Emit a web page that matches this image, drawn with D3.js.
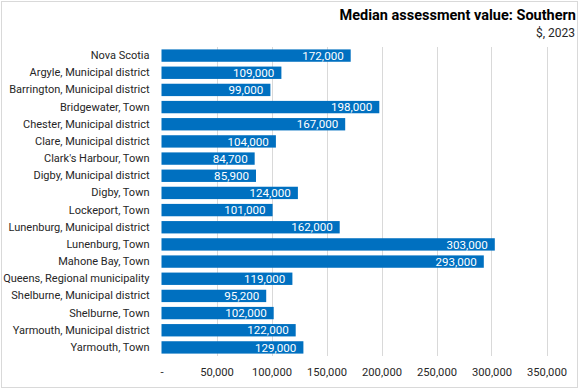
<!DOCTYPE html>
<html>
<head>
<meta charset="utf-8">
<script src="https://cdn.jsdelivr.net/npm/d3@7"></script>
<style>
  body { margin: 0; background: #fff; }
  svg text { font-family: Roboto, "Liberation Sans", sans-serif; }
</style>
</head>
<body>
<svg id="chart" width="579" height="390"></svg>
<script>
'use strict';

// chart data
var categories = [
    "Nova Scotia", "Argyle, Municipal district", "Barrington, Municipal district",
    "Bridgewater, Town", "Chester, Municipal district", "Clare, Municipal district",
    "Clark's Harbour, Town", "Digby, Municipal district", "Digby, Town",
    "Lockeport, Town", "Lunenburg, Municipal district", "Lunenburg, Town",
    "Mahone Bay, Town", "Queens, Regional municipality", "Shelburne, Municipal district",
    "Shelburne, Town", "Yarmouth, Municipal district", "Yarmouth, Town"
];
var values = [172000, 109000, 99000, 198000, 167000, 104000, 84700, 85900, 124000,
    101000, 162000, 303000, 293000, 119000, 95200, 102000, 122000, 129000];
var xTicks = [0, 50000, 100000, 150000, 200000, 250000, 300000, 350000];

var title = "Median assessment value: Southern";
var subtitle = "$, 2023";

var svg = d3.select("#chart");
var margin = {left: 161.5, right: 32.5, top: 47, bottom: 34};
var W = 579, H = 390;

// outer border
svg.append("rect")
    .attr("x", 1.5).attr("y", 1.5)
    .attr("width", W - 3).attr("height", H - 4)
    .attr("fill", "none").attr("stroke", "#d9d9d9");

var x = d3.scaleLinear().domain([0, 350000]).range([margin.left, W - margin.right]);
var y = d3.scaleBand().domain(categories).range([margin.top, H - margin.bottom]).paddingInner(0.28).paddingOuter(0.14);

// gridlines
svg.append("g").selectAll("line")
    .data(xTicks.slice(1))
    .join("line")
    .attr("x1", function (d) { return Math.round(x(d)) + 0.5; })
    .attr("x2", function (d) { return Math.round(x(d)) + 0.5; })
    .attr("y1", margin.top).attr("y2", H - margin.bottom)
    .attr("stroke", "#d9d9d9");

// bars
svg.append("g").selectAll("rect")
    .data(values)
    .join("rect")
    .attr("x", x(0))
    .attr("y", function (d, i) { return y(categories[i]); })
    .attr("width", function (d) { return x(d) - x(0); })
    .attr("height", y.bandwidth())
    .attr("fill", "#0070C0");

// value labels
var fmt = d3.format(",");
svg.append("g").selectAll("text")
    .data(values)
    .join("text")
    .attr("x", function (d) { return x(d) - 7; })
    .attr("y", function (d, i) { return y(categories[i]) + y.bandwidth() / 2; })
    .attr("dy", "0.36em")
    .attr("text-anchor", "end")
    .attr("font-size", 11.6)
    .attr("fill", "#fff")
    .text(function (d) { return fmt(d); });

// category axis
var yAxis = d3.axisLeft(y).tickSize(0).tickPadding(12);
var gy = svg.append("g").attr("transform", "translate(" + margin.left + ",0)").call(yAxis);
gy.select(".domain").remove();
gy.selectAll("text").attr("font-size", 11).attr("fill", "#262626")
    .style("font-family", "Roboto, sans-serif");

// value axis
var xAxis = d3.axisBottom(x).tickValues(xTicks).tickSize(0).tickPadding(12)
    .tickFormat(function (d) { return d === 0 ? "-" : fmt(d); });
var gx = svg.append("g").attr("transform", "translate(0," + (H - margin.bottom) + ")").call(xAxis);
gx.select(".domain").remove();
gx.selectAll("text").attr("font-size", 11.2).attr("fill", "#262626")
    .style("font-family", "Roboto, sans-serif");

// titles
svg.append("text")
    .attr("x", 576).attr("y", 20)
    .attr("text-anchor", "end")
    .attr("font-size", 14.5).attr("font-weight", "bold").attr("fill", "#000")
    .text(title);
svg.append("text")
    .attr("x", 575).attr("y", 37)
    .attr("text-anchor", "end")
    .attr("font-size", 12).attr("fill", "#262626")
    .text(subtitle);
</script>
</body>
</html>
